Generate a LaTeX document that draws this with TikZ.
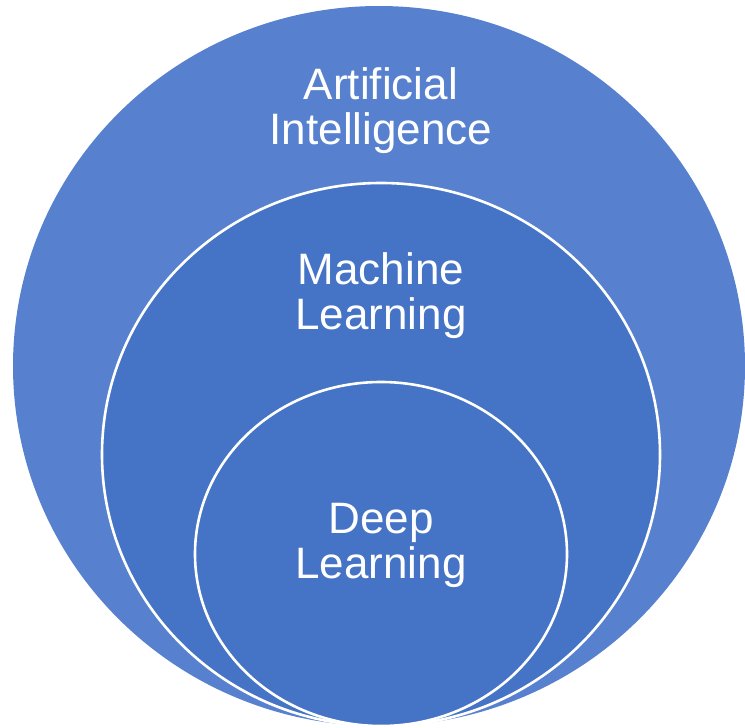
\documentclass[tikz,border=0pt]{standalone}
\usepackage{fontspec}
\setmainfont{Liberation Sans}
\definecolor{outerblue}{RGB}{87,129,207}
\definecolor{innerblue}{RGB}{69,115,197}
\begin{document}
\begin{tikzpicture}[x=1pt,y=-1pt,
  ring/.style={fill=innerblue,draw=white,line width=2.6pt},
  lbl/.style={text=white,align=center,inner sep=0pt,
    font=\fontsize{44}{45}\selectfont}]
\useasboundingbox (0,0) rectangle (745,728);
\fill[outerblue] (379,366) ellipse [x radius=366,y radius=360];
\draw[ring] (381,454.5) ellipse [x radius=279,y radius=271.5];
\draw[ring] (381,554) ellipse [x radius=186,y radius=172];
\node[lbl] (ai) at (381,111) {Artificial\\Intelligence};
\node[lbl] (ml) at (381,296) {Machine\\Learning};
\node[lbl] (dl) at (381,545) {Deep\\Learning};
\end{tikzpicture}
\end{document}
